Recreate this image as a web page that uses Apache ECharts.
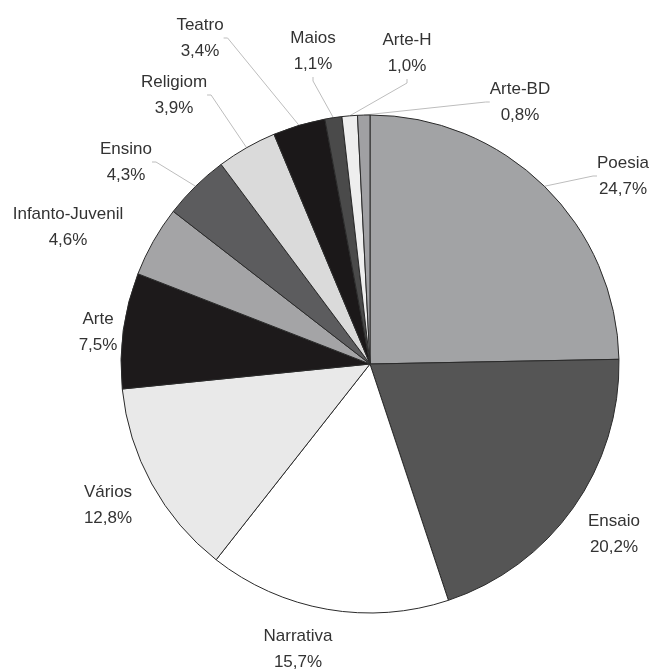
<!DOCTYPE html>
<html>
<head>
<meta charset="utf-8">
<script src="https://cdn.jsdelivr.net/npm/echarts@6/dist/echarts.min.js"></script>
<style>
  html, body { margin: 0; padding: 0; background: #fff; }
  #chart { width: 660px; height: 672px; }
</style>
</head>
<body>
<div id="chart"></div>
<script>
const categories = ['Poesia', 'Ensaio', 'Narrativa', 'Vários', 'Arte', 'Infanto-Juvenil',
  'Ensino', 'Religiom', 'Teatro', 'Maios', 'Arte-H', 'Arte-BD']
const shares = [24.7, 20.2, 15.7, 12.8, 7.5, 4.6, 4.3, 3.9, 3.4, 1.1, 1.0, 0.8]

// slice fills, grey scale like the printed original
const fills = ['#a2a3a5', '#555555', '#ffffff', '#e9e9e9', '#1d1a1b', '#a4a4a6',
  '#5c5c5e', '#dadada', '#1b1819', '#4a4a4a', '#eeeeee', '#a0a0a3']
// where each label sits (centre of the text block)
const labelPos = [[623, 176], [614, 534], [298, 649], [108, 505], [98, 332], [68, 227],
  [126, 162], [174, 95], [200, 38], [313, 51], [407, 53], [520, 102]]
const noLine = ['Ensaio', 'Narrativa', 'Vários', 'Arte', 'Infanto-Juvenil']

let chart = echarts.init(document.getElementById('chart'))
let option = {
  animation: false,
  series: [
    {
      type: 'pie',
      center: [370, 364],
      radius: 249,
      startAngle: 90,
      clockwise: true,
      data: categories.map((name, i) => ({
        name: name,
        value: shares[i],
        itemStyle: { color: fills[i] },
        labelLine: { show: noLine.indexOf(name) < 0 }
      })),
      itemStyle: {
        borderColor: '#2a2a2a',
        borderWidth: 1
      },
      label: {
        position: 'outside',
        color: '#333',
        fontFamily: 'Liberation Sans, Arial, sans-serif',
        fontSize: 17,
        lineHeight: 26,
        align: 'center',
        overflow: 'none',
        formatter: p => p.name + '\n' + p.value.toFixed(1).replace('.', ',') + '%'
      },
      labelLine: {
        length: 6,
        length2: 4,
        lineStyle: { color: '#bdbdbd', width: 1 }
      },
      labelLayout: params => ({
        x: labelPos[params.dataIndex][0],
        y: labelPos[params.dataIndex][1],
        align: 'center',
        verticalAlign: 'middle'
      })
    }
  ]
}
chart.setOption(option)
</script>
</body>
</html>
